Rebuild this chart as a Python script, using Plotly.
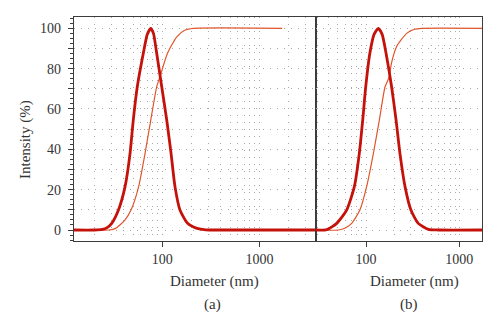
import plotly.graph_objects as go

# ---- data ----
a_dist_d = [12.3, 20, 24, 27, 30.1, 35.3, 41.3, 46.5, 50.2, 55.2, 63.7, 70, 75.9, 81, 87.5, 98.6, 111, 123, 135, 152, 182, 228, 280, 400, 3820]
a_dist_v = [0, 0, 0.3, 1.2, 3.3, 9.9, 21.5, 38, 54.5, 71, 87.6, 97, 100, 97.5, 87.6, 71, 54.5, 38, 21.5, 9.9, 3.3, 0.8, 0.1, 0, 0]

a_cum_d = [12.3, 28, 33, 41.3, 47.7, 57, 66.4, 76, 87.5, 94.6, 113, 141, 170, 210, 1715]
a_cum_v = [0, 0, 0.8, 5, 10, 21.5, 38, 54.5, 71, 76, 87.6, 95.8, 99, 100, 100]

b_dist_d = [28.9, 38, 48.5, 62, 75, 84.8, 92.2, 99.3, 110, 122, 135.5, 149, 164, 188, 210, 231, 262, 303, 363, 466, 600, 1750]
b_dist_v = [0, 0.2, 3.3, 9.9, 21.5, 38, 54.5, 71, 87.6, 97, 100, 97, 87.6, 71, 54.5, 38, 21.5, 9.9, 3.3, 0.3, 0, 0]

b_cum_d = [28.9, 50.5, 60, 70.3, 86, 101.6, 120, 139, 160, 176, 188, 213, 273, 330, 395, 1750]
b_cum_v = [0, 0, 1, 3.3, 9.9, 21.5, 38, 54.5, 71, 75.5, 83, 91, 97.5, 99.5, 100, 100]

x_tick_vals = [100, 1000]
x_tick_text = ["100", "1000"]
y_tick_vals = [0, 10, 20, 30, 40, 50, 60, 70, 80, 90, 100]
y_tick_text = ["0", "", "20", "", "40", "", "60", "", "80", "", "100"]

THICK = "#c4120a"
THIN = "#e0552c"
LINE = "#3c3c3c"
FONT = "Liberation Serif"

fig = go.Figure()
fig.add_trace(go.Scatter(x=a_cum_d, y=a_cum_v, mode="lines", line=dict(color=THIN, width=1.2, shape="spline", smoothing=0.6), xaxis="x", yaxis="y"))
fig.add_trace(go.Scatter(x=a_dist_d, y=a_dist_v, mode="lines", line=dict(color=THICK, width=2.8, shape="spline", smoothing=0.6), xaxis="x", yaxis="y"))
fig.add_trace(go.Scatter(x=b_cum_d, y=b_cum_v, mode="lines", line=dict(color=THIN, width=1.2, shape="spline", smoothing=0.6), xaxis="x2", yaxis="y2"))
fig.add_trace(go.Scatter(x=b_dist_d, y=b_dist_v, mode="lines", line=dict(color=THICK, width=2.8, shape="spline", smoothing=0.6), xaxis="x2", yaxis="y2"))

split = (315.7 - 74) / 408.0
grid = dict(gridcolor="#a8a8a8", gridwidth=1, griddash="1px,6px")

xcommon = dict(type="log", showline=True, linecolor=LINE, linewidth=1.3, mirror=True,
               tickvals=x_tick_vals, ticktext=x_tick_text, ticks="outside", ticklen=5,
               tickcolor=LINE, tickfont=dict(family=FONT, size=14, color="#333"),
               showgrid=False, zeroline=False,
               minor=dict(dtick="D1", showgrid=True, ticks="", **grid))

W, H = 500, 329
l, r, t, b = 74, 18, 17, 88
pw, ph = W - l - r, H - t - b


def ann(text, px, py, angle=0):
    return dict(text=text, x=(px - l) / pw, y=(H - b - py) / ph, xref="paper", yref="paper",
                xanchor="center", yanchor="middle", showarrow=False, textangle=angle,
                font=dict(family=FONT, size=15, color="#333"))


fig.update_layout(
    width=W, height=H,
    margin=dict(l=l, r=r, t=t, b=b),
    paper_bgcolor="white", plot_bgcolor="white",
    showlegend=False,
    xaxis=dict(domain=[0, split], anchor="y", range=[1.09, 3.58], **xcommon),
    xaxis2=dict(domain=[split, 1], anchor="y2", range=[1.461, 3.243], **xcommon),
    yaxis=dict(domain=[0, 1], anchor="x", range=[-5.45, 105.6], showline=True, linecolor=LINE,
               linewidth=1.3, mirror=True, tickvals=y_tick_vals, ticktext=y_tick_text,
               ticks="outside", ticklen=5, tickcolor=LINE, ticklabelstandoff=4,
               tickfont=dict(family=FONT, size=14, color="#333"), zeroline=False,
               showgrid=True, **grid,
               minor=dict(dtick=2.5, tick0=0, ticks="outside", ticklen=3, tickcolor=LINE, showgrid=False)),
    yaxis2=dict(domain=[0, 1], anchor="x2", range=[-5.45, 105.6], showline=True, linecolor=LINE,
                linewidth=1.3, mirror=True, tickvals=y_tick_vals, showticklabels=False, ticks="",
                zeroline=False, showgrid=True, **grid),
    annotations=[
        ann("Intensity (%)", 25, 140, -90),
        ann("Diameter (nm)", 214, 281),
        ann("Diameter (nm)", 414, 281),
        ann("(a)", 212, 304),
        ann("(b)", 409, 304),
    ],
)

fig.write_html("out.html")
